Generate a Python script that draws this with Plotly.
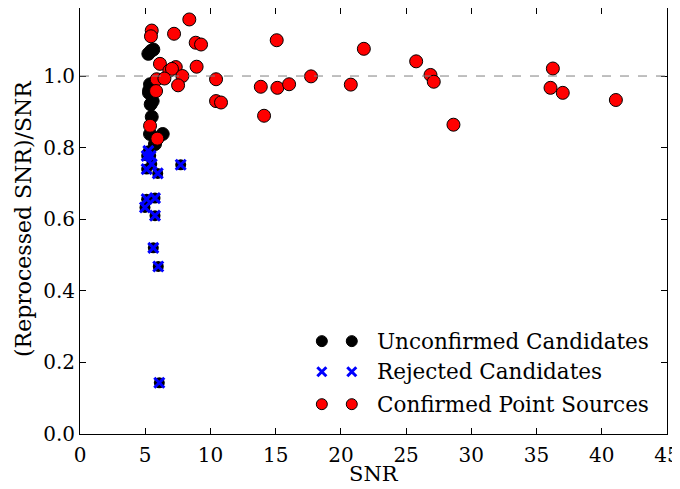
import plotly.graph_objects as go

# Unconfirmed candidates (black)
unc_snr = [5.24, 5.62, 5.37, 5.29, 5.42, 5.57, 5.50, 5.37, 6.34, 5.75, 5.45, 5.30]
unc_ratio = [1.062, 1.074, 0.977, 0.953, 0.921, 0.930, 0.886, 0.838, 0.838, 0.810, 1.070, 0.960]

# Rejected candidates (blue x)
rej_snr = [5.24, 5.42, 5.11, 5.50, 5.11, 5.96, 7.72, 5.11, 5.75, 4.98, 5.75, 5.62, 6.00, 6.08]
rej_ratio = [0.791, 0.777, 0.777, 0.754, 0.740, 0.728, 0.752, 0.656, 0.659, 0.633, 0.610, 0.520, 0.468, 0.143]

# Confirmed point sources (red)
conf_snr = [8.38, 5.50, 5.44, 7.21, 8.87, 9.28, 6.13, 6.85, 7.34, 7.05, 8.94, 5.88, 6.47,
            7.85, 7.52, 10.43, 5.83, 10.43, 10.81, 5.37, 5.93,
            15.08, 13.86, 15.13, 16.03, 14.11, 17.71, 20.76, 21.76, 25.77, 26.87, 27.12,
            28.63, 36.25, 36.07, 37.01, 41.08]
conf_ratio = [1.158, 1.127, 1.111, 1.118, 1.093, 1.088, 1.034, 1.015, 1.025, 1.020, 1.026, 0.991, 0.993,
              1.000, 0.974, 0.991, 0.958, 0.930, 0.926, 0.861, 0.825,
              1.100, 0.970, 0.967, 0.977, 0.889, 0.999, 0.976, 1.076, 1.041, 1.003, 0.984,
              0.864, 1.021, 0.967, 0.953, 0.933]

x_ticks = [0, 5, 10, 15, 20, 25, 30, 35, 40, 45]
y_ticks = [0.0, 0.2, 0.4, 0.6, 0.8, 1.0]
y_tick_text = ["0.0", "0.2", "0.4", "0.6", "0.8", "1.0"]

legend_labels = ["Unconfirmed Candidates", "Rejected Candidates", "Confirmed Point Sources"]

FONT = "DejaVu Serif"

fig = go.Figure()

fig.add_trace(go.Scatter(x=unc_snr, y=unc_ratio, mode="markers",
                         marker=dict(color="black", size=13, line=dict(color="black", width=1)),
                         showlegend=False, hoverinfo="skip"))
fig.add_trace(go.Scatter(x=rej_snr, y=rej_ratio, mode="markers",
                         marker=dict(color="black", size=11, line=dict(width=0)),
                         showlegend=False, hoverinfo="skip"))
fig.add_trace(go.Scatter(x=conf_snr, y=conf_ratio, mode="markers",
                         marker=dict(color="red", size=13, line=dict(color="black", width=1)),
                         showlegend=False))
fig.add_trace(go.Scatter(x=rej_snr, y=rej_ratio, mode="markers",
                         marker=dict(symbol="x-thin", size=10, line=dict(color="blue", width=3), color="blue"),
                         showlegend=False))

# Custom legend on overlay axes (0..1)
leg_y = [0.218, 0.146, 0.070]
leg_styles = [
    dict(color="black", size=11, line=dict(color="black", width=1)),
    dict(symbol="x-thin", size=9, color="blue", line=dict(color="blue", width=3)),
    dict(color="red", size=11, line=dict(color="black", width=1)),
]
for yy, st, lab in zip(leg_y, leg_styles, legend_labels):
    fig.add_trace(go.Scatter(x=[0.412, 0.463], y=[yy, yy], mode="markers", marker=st,
                             xaxis="x2", yaxis="y2", showlegend=False, hoverinfo="skip"))
    fig.add_annotation(x=0.502, y=yy, xref="x2", yref="y2", text=lab, showarrow=False,
                       xanchor="left", yanchor="middle", font=dict(family=FONT, size=21.5, color="black"))

fig.add_shape(type="line", xref="paper", yref="y", x0=0, x1=1, y0=1.0, y1=1.0,
              line=dict(color="gray", width=1, dash="dash"))

# axis titles
fig.add_annotation(x=0.5, y=0, xref="paper", yref="paper", yshift=-40, text="SNR", showarrow=False,
                   xanchor="center", yanchor="middle", font=dict(family=FONT, size=21, color="black"))
fig.add_annotation(x=0, y=0.5, xref="paper", yref="paper", xshift=-57, yshift=2,
                   text="(Reprocessed SNR)/SNR", textangle=-90, showarrow=False,
                   xanchor="center", yanchor="middle", font=dict(family=FONT, size=22, color="black"))

axis_common = dict(showline=True, linecolor="black", linewidth=1, mirror="ticks", ticks="inside",
                   ticklen=6, tickcolor="black", showgrid=False, zeroline=False, automargin=False,
                   tickfont=dict(family=FONT, size=20, color="black"))

# page body has an 8px margin; compensate so the plot lands where the reference has it
fig.update_layout(
    width=672, height=481,
    margin=dict(l=72, r=13, t=0, b=55),
    plot_bgcolor="white", paper_bgcolor="white",
    xaxis=dict(range=[0, 45], tickvals=x_ticks, ticklabelstandoff=3, **axis_common),
    yaxis=dict(range=[0, 1.19], tickvals=y_ticks, ticktext=y_tick_text, **axis_common),
    xaxis2=dict(range=[0, 1], overlaying="x", visible=False, anchor="y2"),
    yaxis2=dict(range=[0, 1], overlaying="y", visible=False, anchor="x2"),
)

fig.write_html("out.html")
